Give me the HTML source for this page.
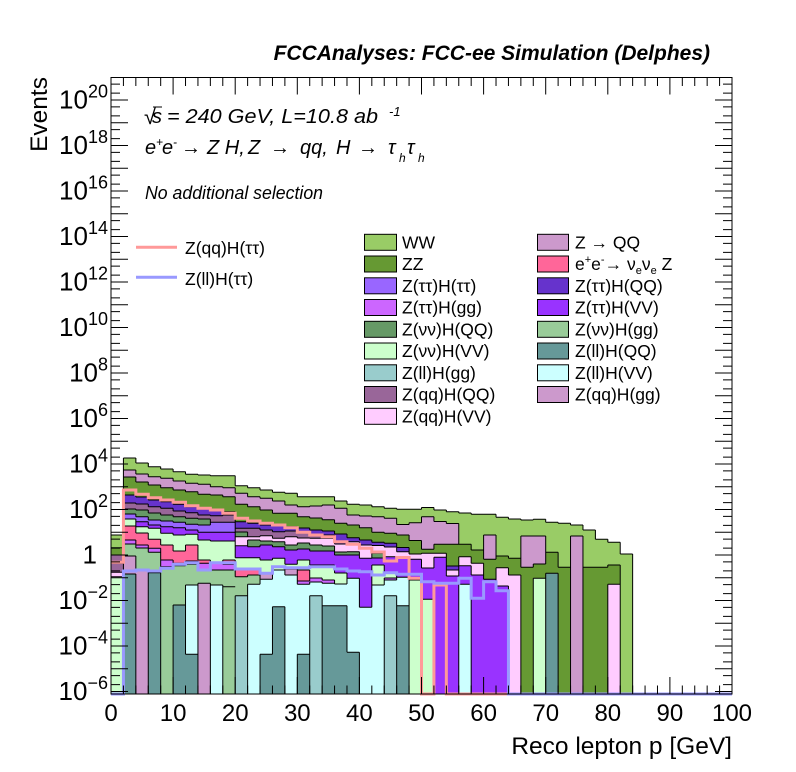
<!DOCTYPE html>
<html><head><meta charset="utf-8">
<style>
html,body{margin:0;padding:0;background:#fff;}
svg{display:block;font-family:"Liberation Sans",Arial,sans-serif;}
</style></head><body>
<svg id="c" width="796" height="772" viewBox="0 0 796 772" xmlns="http://www.w3.org/2000/svg">
<rect width="796" height="772" fill="#fff"/>
<g id="fills" shape-rendering="crispEdges"></g>
<path id="outl" d="" fill="none" stroke="#000" stroke-width="1"/>
<path id="sig1" d="" fill="none" stroke="#ff9999" stroke-width="3"/>
<path id="sig2" d="" fill="none" stroke="#9999ff" stroke-width="3"/>
<rect x="111" y="77.5" width="621" height="616.5" fill="none" stroke="#000" stroke-width="1"/>
<path id="ticks" d="" fill="none" stroke="#000" stroke-width="1"/>

<!-- header -->
<text x="710" y="60" text-anchor="end" font-size="21" font-weight="bold" font-style="italic">FCCAnalyses: FCC-ee Simulation (Delphes)</text>

<!-- inner labels -->
<g font-style="italic">
<text x="144" y="124" font-size="22">√</text>
<line x1="153" y1="107" x2="162" y2="107" stroke="#000" stroke-width="1"/>
<text x="152" y="123" font-size="20">s</text>
<text x="167" y="123" font-size="20" textLength="211" lengthAdjust="spacingAndGlyphs">= 240 GeV, L=10.8 ab</text>
<text x="389" y="116" font-size="13">-1</text>

<text x="145" y="154" font-size="20">e</text><text x="156" y="146" font-size="12">+</text>
<text x="162" y="154" font-size="20">e</text><text x="173" y="146" font-size="12">-</text>
<text x="181" y="154" font-size="20">→</text>
<text x="207" y="154" font-size="20">Z H,</text>
<text x="248" y="154" font-size="20">Z</text>
<text x="270" y="154" font-size="20">→</text>
<text x="300" y="154" font-size="20">qq,</text>
<text x="336" y="154" font-size="20">H</text>
<text x="358" y="154" font-size="20">→</text>
<text x="388" y="154" font-size="20">τ</text><text x="399" y="162" font-size="12">h</text>
<text x="407" y="154" font-size="20">τ</text><text x="418" y="162" font-size="12">h</text>

<text x="145" y="199" font-size="18" textLength="178" lengthAdjust="spacingAndGlyphs">No additional selection</text>
</g>

<!-- legend 1 -->
<line x1="136" y1="247.3" x2="177" y2="247.3" stroke="#ff9999" stroke-width="3"/>
<text x="185" y="254" font-size="17.5">Z(qq)H(ττ)</text>
<line x1="136" y1="277.3" x2="177" y2="277.3" stroke="#9999ff" stroke-width="3"/>
<text x="185" y="285" font-size="17.5">Z(ll)H(ττ)</text>

<!-- legend 2 -->
<g stroke="#000" stroke-width="1">
<rect x="364.5" y="234.3" width="32" height="16" fill="#99cc66"/>
<rect x="364.5" y="256" width="32" height="16" fill="#669933"/>
<rect x="364.5" y="277.8" width="32" height="16" fill="#9966ff"/>
<rect x="364.5" y="299.5" width="32" height="16" fill="#cc66ff"/>
<rect x="364.5" y="321.3" width="32" height="16" fill="#669966"/>
<rect x="364.5" y="343" width="32" height="16" fill="#ccffcc"/>
<rect x="364.5" y="364.8" width="32" height="16" fill="#99cccc"/>
<rect x="364.5" y="386.5" width="32" height="16" fill="#996699"/>
<rect x="364.5" y="408.3" width="32" height="16" fill="#ffccff"/>
<rect x="537.5" y="234.3" width="31" height="16" fill="#cc99cc"/>
<rect x="537.5" y="256" width="31" height="16" fill="#ff6699"/>
<rect x="537.5" y="277.8" width="31" height="16" fill="#6633cc"/>
<rect x="537.5" y="299.5" width="31" height="16" fill="#9933ff"/>
<rect x="537.5" y="321.3" width="31" height="16" fill="#99cc99"/>
<rect x="537.5" y="343" width="31" height="16" fill="#669999"/>
<rect x="537.5" y="364.8" width="31" height="16" fill="#ccffff"/>
<rect x="537.5" y="386.5" width="31" height="16" fill="#cc99cc"/>
</g>
<g font-size="17.5">
<text x="402" y="248.3">WW</text>
<text x="402" y="270">ZZ</text>
<text x="402" y="291.8">Z(ττ)H(ττ)</text>
<text x="402" y="313.5">Z(ττ)H(gg)</text>
<text x="402" y="335.3">Z(νν)H(QQ)</text>
<text x="402" y="357">Z(νν)H(VV)</text>
<text x="402" y="378.8">Z(ll)H(gg)</text>
<text x="402" y="400.5">Z(qq)H(QQ)</text>
<text x="402" y="422.3">Z(qq)H(VV)</text>
<text x="575" y="248.3">Z → QQ</text>
<text x="575" y="270">e<tspan font-size="11" dy="-7">+</tspan><tspan dy="7">e</tspan><tspan font-size="11" dy="-7">-</tspan><tspan dy="7">→ ν</tspan><tspan font-size="11" dy="4">e</tspan><tspan dy="-4">ν</tspan><tspan font-size="11" dy="4">e</tspan><tspan dy="-4"> Z</tspan></text>
<text x="575" y="291.8">Z(ττ)H(QQ)</text>
<text x="575" y="313.5">Z(ττ)H(VV)</text>
<text x="575" y="335.3">Z(νν)H(gg)</text>
<text x="575" y="357">Z(ll)H(QQ)</text>
<text x="575" y="378.8">Z(ll)H(VV)</text>
<text x="575" y="400.5">Z(qq)H(gg)</text>
</g>

<!-- y labels -->
<g font-size="26" text-anchor="end">
<text x="108" y="108.5">10<tspan font-size="18" dy="-11">20</tspan></text>
<text x="108" y="154">10<tspan font-size="18" dy="-11">18</tspan></text>
<text x="108" y="199.5">10<tspan font-size="18" dy="-11">16</tspan></text>
<text x="108" y="245">10<tspan font-size="18" dy="-11">14</tspan></text>
<text x="108" y="290.5">10<tspan font-size="18" dy="-11">12</tspan></text>
<text x="108" y="336">10<tspan font-size="18" dy="-11">10</tspan></text>
<text x="108" y="381.5">10<tspan font-size="18" dy="-11">8</tspan></text>
<text x="108" y="427">10<tspan font-size="18" dy="-11">6</tspan></text>
<text x="108" y="472.5">10<tspan font-size="18" dy="-11">4</tspan></text>
<text x="108" y="518">10<tspan font-size="18" dy="-11">2</tspan></text>
<text x="97" y="563.5">1</text>
<text x="108" y="609">10<tspan font-size="18" dy="-11">−2</tspan></text>
<text x="108" y="654.5">10<tspan font-size="18" dy="-11">−4</tspan></text>
<text x="108" y="700">10<tspan font-size="18" dy="-11">−6</tspan></text>
</g>

<!-- x labels -->
<g font-size="24" text-anchor="middle">
<text x="111" y="721">0</text>
<text x="173.1" y="721">10</text>
<text x="235.2" y="721">20</text>
<text x="297.3" y="721">30</text>
<text x="359.4" y="721">40</text>
<text x="421.5" y="721">50</text>
<text x="483.6" y="721">60</text>
<text x="545.7" y="721">70</text>
<text x="607.8" y="721">80</text>
<text x="669.9" y="721">90</text>
<text x="732" y="721">100</text>
</g>

<text x="732" y="754" text-anchor="end" font-size="24.5">Reco lepton p [GeV]</text>
<text transform="translate(47,77) rotate(-90)" text-anchor="end" font-size="24.5">Events</text>
</svg>
<script>
(function(){
var C={A:'#99cc66',B:'#cc99cc',C:'#669933',D:'#ff6699',E:'#9966ff',F:'#6633cc',G:'#cc66ff',H:'#9933ff',I:'#669966',J:'#99cc99',K:'#ccffcc',L:'#669999',M:'#99cccc',N:'#ccffff',O:'#996699',P:'#ffccff'};
var bins=[
"535A 547.7C 555O 563.3O 572.3P 576.7K",
"458A 470B 477C 495F 503O 509I 514E 519K 526D 540G 544J 556B 574L",
"463A 474B 482C 497F 504O 510I 516.7E 521.7H 526.7K 533D 545G 548J 571B",
"466.7A 476.7B 485C 500F 506.7O 513I 520E 525H 528.3K 539.3D 548.3G 552.3J 572.7L",
"469A 478.3B 487.7C 501.7F 508.3O 515I 521E 526.7H 533.3K 545D 560G 566.7J",
"471.7A 481B 490C 504.3F 511O 516.7I 522.3E 527.7H 535K 551D 563.3G 565.7J 605L",
"474.3A 483.3B 491.7C 506.7F 512.7O 518.3I 524.3E 530H 534.3K 545D 561G 564.3J 585N 654.3L",
"475A 484.3B 494.3C 508.3F 515O 519I 525E 532.3H 540K 560D 563.3G 570J 583.3B",
"475.7A 486.7B 495C 510F 515.7O 522.3E 532.3H 541K 563.3G 570J 585N",
"475.7A 487.7B 496.7C 511.7F 515O 522.3E 532.3H 541K 560D 564.3G 570J 586.7J",
"485.7A 493.3B 504.3C 521.7F 528.3O 532I 536.7P 545.7H 557.7K 570D 576.7J 595.7M",
"487.7A 496.7B 506.7C 523.3F 528.3O 536.7P 540I 546.7H 557.7K 570D 575J 584.3N",
"490A 498.3B 510C 525F 530O 535.7P 541I 545H 560K 573.3B 579.3N 654.3L",
"492.3A 501B 513.3C 524.3F 531.7O 538.3P 541.7I 546.7H 558.3K 570N 606.7L",
"493.3A 505B 513.3C 526.7F 531O 536.7P 545I 550H 564.3K 569B 575N",
"496.7A 506.7B 516.7C 528F 532O 538P 543I 549H 560K 570D 581G 584.3N 654.3L",
"496.7A 506B 518C 530F 534O 538.3P 545I 551H 565K 578G 582N 595.7M",
"496.7A 505B 519.7C 531F 535O 538.3P 546I 551H 565K 580G 583.3N 605.7L",
"501A 508.3B 523.3C 534F 544P 552I 555H 573K 584N 605.7L",
"504.3A 515B 525C 537.7F 541.7P 551.7I 555H 578.3N 652.3L",
"505A 516B 527.7C 540F 545P 558.3H 607.3N",
"506.7A 516.7B 532.3C 542.3F 545.5P 553.3I 558H 565K 585N",
"508.3A 518.3B 533.3C 543.3F 547P 556.7H 573K 578G 580N 595.7M",
"509.3A 524.5B 535C 547.5F 551.7P 558.3H 577.3N 605.7L",
"509.3A 522.7B 540.5C 554P 559.3H 580K",
"507.5A 516.7B 549.2C 553.3P 568H 599.3K",
"510A 521.5B 544.3C 553.3P 557.3H",
"511.7A 523.5B 544.3C 566F 570P 576H",
"513A 544.3C 556.7P 565.7H 584.3N",
"514.3A 550C 563.3P 575H",
"514.3A 535B 559.3C 579.3H",
"517.3A 556C 567.7P 586H",
"519A 558.3C 575P",
"520A 536B 567.3C",
"519.3A 536B 564C 578.3K",
"522.3A 552.3C 573.3L",
"523.3A 567.3C",
"525A 536B",
"530A 567.3C",
"539.3A 567.3C",
"542.3A 565C 584.3P",
"554A"
];
var NB=50,X0=111,W=12.42,BOT=694;
var data=bins.map(function(s){return s.trim().split(/\s+/).map(function(t){return [parseFloat(t),t.slice(-1)];});});
while(data.length<NB)data.push([]);
var fills='',d='';
data.forEach(function(segs,i){
  var x0=X0+i*W,x1=x0+W;
  segs.forEach(function(s,j){
    var yb=j+1<segs.length?segs[j+1][0]:BOT;
    fills+='<rect x="'+x0.toFixed(2)+'" y="'+s[0]+'" width="'+(W+0.5).toFixed(2)+'" height="'+(yb-s[0]).toFixed(2)+'" fill="'+C[s[1]]+'"/>';
    d+='M'+x0.toFixed(2)+' '+s[0]+'H'+x1.toFixed(2);
  });
});
function colorAt(segs,y){var c=null;for(var k=0;k<segs.length;k++){if(segs[k][0]<=y)c=segs[k][1];else break;}return c;}
for(var i=0;i<=NB;i++){
  var L=i>0?data[i-1]:[],R=i<NB?data[i]:[];
  var x=(X0+i*W).toFixed(2);
  var ys=L.map(function(s){return s[0];}).concat(R.map(function(s){return s[0];})).concat([BOT]).sort(function(a,b){return a-b;});
  for(var k=0;k<ys.length-1;k++){
    var a=ys[k],b=ys[k+1];if(b-a<0.01)continue;
    var m=(a+b)/2;
    if(colorAt(L,m)!==colorAt(R,m))d+='M'+x+' '+a+'V'+b;
  }
}
document.getElementById('fills').innerHTML=fills;
document.getElementById('outl').setAttribute('d',d);
function step(v){var s='';for(var i=0;i<NB;i++){var y=i<v.length?v[i]:BOT;var x0=X0+i*W,x1=x0+W;s+=(i==0?'M'+x0+' '+y:'V'+y)+'H'+x1.toFixed(2);}return s;}
var sal=[562.3,490,494.3,497.7,500,502.3,505.7,508.3,510,513.3,518.3,521,523.3,525,527.7,532.3,535,536.7,541.7,544.3,548.3,552,561,557.5,578.3,694,585];
var blu=[694,571,570,571,568.3,564.3,562.7,570,562.7,562.7,569,569,573.3,566.7,567.7,567.7,566.7,566.7,569,571,571.7,575,572.7,574.3,574.3,581.7,583.3,583.3,578.3,598.3,581.7,590.7];
document.getElementById('sig1').setAttribute('d',step(sal));
document.getElementById('sig2').setAttribute('d',step(blu));
var t='';
for(var k=0;k<=50;k++){var xx=(X0+k*W).toFixed(2);var len=(k%5==0)?17:8.5;t+='M'+xx+' 694V'+(694-len)+'M'+xx+' 77.5V'+(77.5+len);}
for(var n=-7;n<=21;n++){[[0,17],[0.30103,9],[0.69897,9]].forEach(function(p){var y=555-22.75*(n+p[0]);if(y>78&&y<694){t+='M111 '+y.toFixed(2)+'H'+(111+p[1])+'M732 '+y.toFixed(2)+'H'+(732-p[1]);}});}
document.getElementById('ticks').setAttribute('d',t);
})();
</script>
</body></html>
